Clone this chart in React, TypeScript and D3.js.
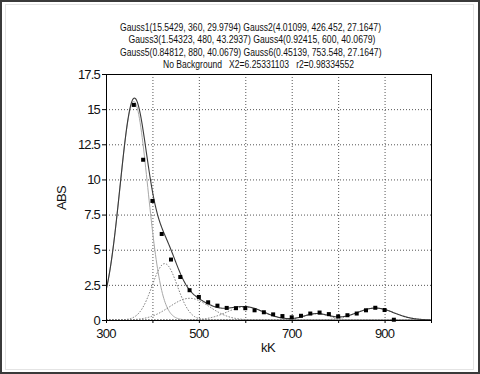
import React from "react";
import * as d3 from "d3";

const titleLines = [
  "Gauss1(15.5429, 360, 29.9794) Gauss2(4.01099, 426.452, 27.1647)",
  "Gauss3(1.54323, 480, 43.2937) Gauss4(0.92415, 600, 40.0679)",
  "Gauss5(0.84812, 880, 40.0679) Gauss6(0.45139, 753.548, 27.1647)",
  "No Background   X2=6.25331103   r2=0.98334552",
];

// Gaussian fit parameters (amplitude, centre, width) as printed in the title
const gaussAmp = [15.5429, 4.01099, 1.54323, 0.92415, 0.84812, 0.45139];
const gaussCenter = [360, 426.452, 480, 600, 880, 753.548];
const gaussWidth = [29.9794, 27.1647, 43.2937, 40.0679, 40.0679, 27.1647];

// measured points
const dataX = [360, 380, 400, 420, 440, 460, 480, 500, 520, 540, 560, 580, 600, 620, 640, 660, 680, 700, 720, 740, 760, 780, 800, 820, 840, 860, 880, 900, 920];
const dataY = [15.3, 11.4, 8.47, 6.12, 4.3, 3.06, 2.12, 1.64, 1.26, 1.02, 0.86, 0.84, 0.84, 0.69, 0.55, 0.4, 0.28, 0.19, 0.3, 0.46, 0.53, 0.42, 0.26, 0.34, 0.46, 0.69, 0.87, 0.71, 0.02];

const yTicks = [0, 2.5, 5, 7.5, 10, 12.5, 15, 17.5];
const xGrid = [300, 400, 500, 600, 700, 800, 900, 1000];
const xLabels = [300, 500, 700, 900];

const W = 480;
const H = 374;
const L = 106, R = 431, T = 74, B = 320;

export default function App() {
  const x = d3.scaleLinear().domain([300, 1000]).range([L, R]);
  const y = d3.scaleLinear().domain([0, 17.5]).range([B, T]);

  const xs = d3.range(300, 1000.001, 1.5);
  const g = (i: number, v: number) =>
    gaussAmp[i] * Math.exp(-((v - gaussCenter[i]) ** 2) / (2 * gaussWidth[i] ** 2));
  const line = d3
    .line<[number, number]>()
    .x((d) => x(d[0]))
    .y((d) => y(d[1]));

  const comps = gaussAmp.map((_, i) => line(xs.map((v) => [v, g(i, v)] as [number, number])) || "");
  const total = line(
    xs.map((v) => [v, d3.sum(gaussAmp.map((_, i) => g(i, v)))] as [number, number])
  ) || "";

  const font = "'Liberation Sans', Arial, sans-serif";
  const titleSpecs = [
    { x0: 120, w: 261, yb: 30.5 },
    { x0: 128.5, w: 247, yb: 43 },
    { x0: 120, w: 261.5, yb: 55.5 },
    { x0: 163, w: 191, yb: 68 },
  ];

  return (
    <svg
      width={W}
      height={H}
      style={{ position: "absolute", left: 0, top: 0, background: "#fff" }}
      fontFamily={font}
    >
      <rect x={0} y={0} width={W} height={H} fill="#fff" />
      <rect x={1} y={1} width={W - 2} height={H - 2} fill="none" stroke="#3a3a3a" strokeWidth={2} />
      <rect x={5.5} y={4.5} width={468} height={365} fill="none" stroke="#e4e4e4" strokeWidth={1} />

      {titleLines.map((t, i) => (
        <text
          key={i}
          x={titleSpecs[i].x0}
          y={titleSpecs[i].yb}
          fontSize={10}
          fill="#111"
          textLength={titleSpecs[i].w}
          lengthAdjust="spacingAndGlyphs"
          style={{ whiteSpace: "pre" }}
        >
          {t}
        </text>
      ))}

      <defs>
        <clipPath id="plot">
          <rect x={L} y={T} width={R - L} height={B - T} />
        </clipPath>
      </defs>

      {/* grid */}
      {yTicks.slice(1, -1).map((v) => (
        <line key={"gy" + v} x1={L} x2={R} y1={y(v) + 0.5} y2={y(v) + 0.5} stroke="#555" strokeDasharray="1,2" />
      ))}
      {xGrid.slice(1, -1).map((v) => (
        <line key={"gx" + v} x1={x(v) + 0.5} x2={x(v) + 0.5} y1={T} y2={B} stroke="#555" strokeDasharray="1,2" />
      ))}

      <g clipPath="url(#plot)" fill="none">
        {comps.map((d, i) =>
          i === 0 ? (
            <path key={i} d={d} stroke="#a8a8a8" strokeWidth={1} />
          ) : (
            <path key={i} d={d} stroke="#777" strokeWidth={1} strokeDasharray="1.5,1.5" />
          )
        )}
        <path d={total} stroke="#3a3a3a" strokeWidth={1.1} />
      </g>

      {dataX.map((v, i) => (
        <rect key={"p" + i} x={x(v) - 2} y={y(dataY[i]) - 2} width={4} height={4} fill="#000" />
      ))}

      {/* frame */}
      <rect x={L + 0.5} y={T + 0.5} width={R - L} height={B - T} fill="none" stroke="#000" strokeWidth={1} />

      {/* y axis ticks and labels */}
      {yTicks.map((v) => (
        <g key={"ty" + v}>
          <line x1={L - 4} x2={L} y1={y(v) + 0.5} y2={y(v) + 0.5} stroke="#000" />
          <text
            x={100}
            y={y(v)}
            dy="0.36em"
            textAnchor="end"
            fontSize={13}
            letterSpacing={-0.8}
            fill="#111"
          >
            {String(v)}
          </text>
        </g>
      ))}
      {xGrid.map((v) => (
        <line key={"tx" + v} x1={x(v) + 0.5} x2={x(v) + 0.5} y1={B} y2={B + 3} stroke="#000" />
      ))}
      {xLabels.map((v) => (
        <text key={"lx" + v} x={x(v)} y={338} textAnchor="middle" fontSize={13} letterSpacing={-0.8} fill="#111">
          {String(v)}
        </text>
      ))}

      <text x={268} y={352} textAnchor="middle" fontSize={13} letterSpacing={-0.6} fill="#111">
        kK
      </text>
      <text
        transform="translate(66,198) rotate(-90)"
        textAnchor="middle"
        fontSize={13}
        letterSpacing={-0.6}
        fill="#111"
      >
        ABS
      </text>
    </svg>
  );
}
